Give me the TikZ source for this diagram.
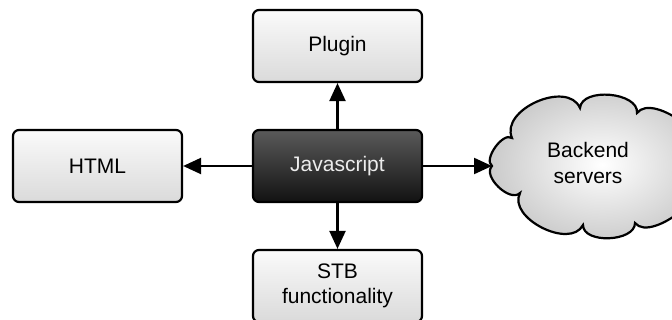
\documentclass[tikz,border=0pt]{standalone}
\usepackage{fontspec}
\setmainfont{Liberation Sans}
\usetikzlibrary{arrows.meta}
\definecolor{boxtop}{HTML}{FAFAFA}
\definecolor{boxbot}{HTML}{DADADA}
\definecolor{jstop}{HTML}{5A5A5A}
\definecolor{jsbot}{HTML}{121212}
\definecolor{jstext}{HTML}{ECECEC}
\begin{document}
\begin{tikzpicture}[x=1pt,y=-1pt,
  box/.style={draw=black, line width=2.2pt, rounded corners=6pt,
    minimum width=169pt, minimum height=72pt, inner sep=0pt,
    top color=boxtop, bottom color=boxbot, align=center,
    font=\fontsize{21}{25.5}\selectfont},
  darkbox/.style={box, top color=jstop, bottom color=jsbot, text=jstext},
  conn/.style={draw=black, line width=2.2pt, -{Triangle[length=18pt,width=16pt]}},
  lbl/.style={align=center, inner sep=0pt, font=\fontsize{21}{25.5}\selectfont}]
\useasboundingbox (0,0) rectangle (672,320);
\clip (0,0) rectangle (672,320);
% cloud
\coordinate (cl) at (492,166);
\path[draw=black, line width=2.2pt, inner color=white, outer color=black!22, shading=radial]
  (cl) .. controls (483,159.5) and (503,131.5) .. (512,138)
  .. controls (499.6,109.6) and (567.6,79.6) .. (580,108)
  .. controls (581.8,87.1) and (638.8,92.1) .. (637,113)
  .. controls (653.4,91.6) and (721.4,143.6) .. (705,165)
  .. controls (722,186) and (652,244) .. (635,223)
  .. controls (635,242) and (583,244) .. (583,225)
  .. controls (570.3,249.9) and (507.3,217.9) .. (520,193)
  .. controls (510,203) and (482,176) .. (cl) -- cycle;
\node[lbl] (backend) at (588,163) {Backend\\servers};
% boxes
\node[box] (plugin) at (337.5,46) {Plugin};
\node[box] (html) at (97.5,166) {HTML};
\node[darkbox] (js) at (337.5,166) {Javascript};
\node[box] (stb) at (337.5,286) {STB\\functionality};
% connectors
\draw[conn] (js.north) -- (plugin.south);
\draw[conn] (js.west) -- (html.east);
\draw[conn] (js.east) -- (cl);
\draw[conn] (js.south) -- (stb.north);
\end{tikzpicture}
\end{document}
